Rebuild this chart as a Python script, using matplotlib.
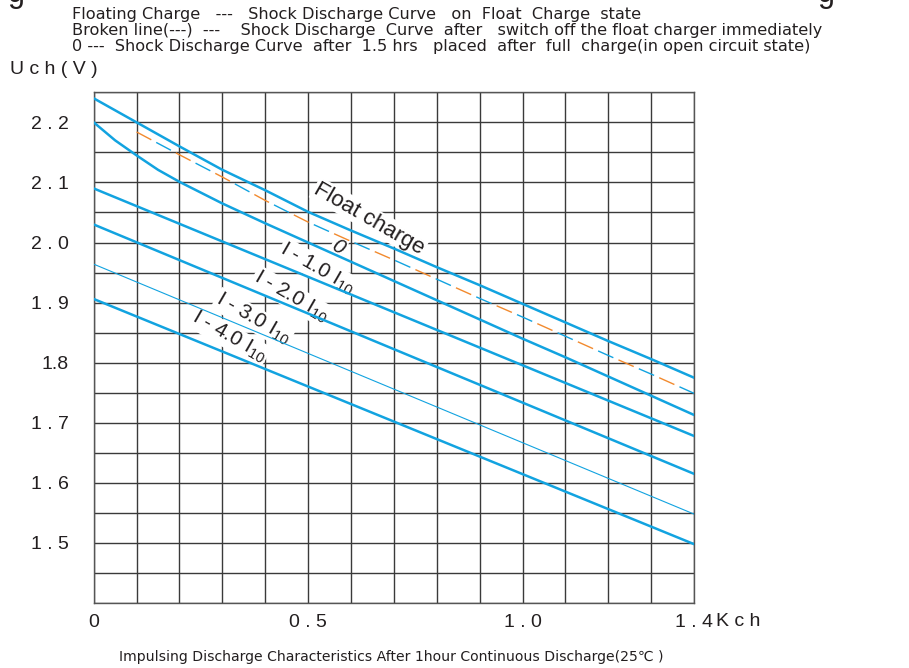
import numpy as np
import matplotlib
matplotlib.use("Agg")
import matplotlib.pyplot as plt

plt.rcParams['font.family'] = ['Liberation Sans', 'DejaVu Sans']
plt.rcParams['mathtext.fontset'] = 'custom'
plt.rcParams['mathtext.rm'] = 'Liberation Sans'
plt.rcParams['mathtext.it'] = 'Liberation Sans:italic'

# data (x in Kch, y in V)
x_float = [0, 0.1, 0.2, 0.3, 0.4, 0.5, 0.6, 0.7, 0.8, 0.9, 1.0, 1.1, 1.2, 1.3, 1.4]
y_float = [2.24, 2.20, 2.160, 2.121, 2.087, 2.051, 2.020, 1.990, 1.959, 1.929,
           1.898, 1.867, 1.836, 1.806, 1.775]

x_zero = [0, 0.05, 0.1, 0.15, 0.2, 0.3, 0.4, 0.5, 0.6, 0.7, 0.8, 0.9, 1.0, 1.1, 1.2, 1.3, 1.4]
y_zero = [2.20, 2.170, 2.145, 2.121, 2.101, 2.065, 2.032, 2.000, 1.968, 1.936,
          1.904, 1.872, 1.840, 1.809, 1.777, 1.745, 1.713]

x_broken = [0.1, 0.2, 0.3, 0.4, 0.5, 0.6, 0.7, 0.8, 0.9, 1.0, 1.1, 1.2, 1.3, 1.4]
y_broken = [2.184, 2.146, 2.109, 2.070, 2.034, 2.002, 1.971, 1.939, 1.907,
            1.876, 1.844, 1.812, 1.781, 1.749]

x_ends = [0, 1.4]
y_i10 = [2.090, 1.678]
y_i20 = [2.030, 1.615]
y_i30 = [1.964, 1.548]
y_i40 = [1.906, 1.498]

y_ticks = [2.2, 2.1, 2.0, 1.9, 1.8, 1.7, 1.6, 1.5]
y_labels = ['2 . 2', '2 . 1', '2 . 0', '1 . 9', '1.8', '1 . 7', '1 . 6', '1 . 5']
x_ticks = [0, 0.5, 1.0, 1.4]
x_labels = ['0', '0 . 5', '1 . 0', '1 . 4']

blue = '#12a3e0'
orange = '#f28a2e'
ink = '#231f20'

fig = plt.figure(figsize=(9.09, 6.68), dpi=100)
ax = fig.add_axes([0.1031, 0.0973, 0.6604, 0.7645])

ax.set_xlim(0, 1.4)
ax.set_ylim(1.40, 2.25)

# grid every 0.1 Kch / 0.05 V
xg = np.round(np.arange(0, 1.401, 0.1), 2)
yg = np.round(np.arange(1.40, 2.2501, 0.05), 2)
ax.set_xticks(xg)
ax.set_yticks(yg)
ax.set_xticklabels([x_labels[x_ticks.index(v)] if v in x_ticks else '' for v in xg])
ax.set_yticklabels([y_labels[y_ticks.index(v)] if v in y_ticks else '' for v in yg])
ax.tick_params(length=0, labelsize=14, labelcolor=ink)
ax.tick_params(axis='y', pad=18)
ax.tick_params(axis='x', pad=8)
ax.grid(True, color='#3a3a3a', linewidth=1.0, zorder=0)
ax.set_axisbelow(True)
for s in ax.spines.values():
    s.set_color('#555555')
    s.set_linewidth(1.0)

ax.plot(x_float, y_float, color=blue, lw=1.8, zorder=3)
ax.plot(x_zero, y_zero, color=blue, lw=1.8, zorder=3)
ax.plot(x_ends, y_i10, color=blue, lw=1.8, zorder=3)
ax.plot(x_ends, y_i20, color=blue, lw=1.8, zorder=3)
ax.plot(x_ends, y_i30, color=blue, lw=0.8, zorder=3)
ax.plot(x_ends, y_i40, color=blue, lw=1.8, zorder=3)
# broken line: alternating orange / blue dashes
ax.plot(x_broken, y_broken, color=orange, lw=1.0, linestyle=(0, (12, 20)), zorder=3)
ax.plot(x_broken, y_broken, color=blue, lw=1.0, linestyle=(16, (12, 20)), zorder=3)

box = dict(facecolor='white', edgecolor='none', pad=1)
ax.text(0.643, 2.040, 'Float charge', fontsize=16, rotation=-30, color=ink,
        ha='center', va='center', bbox=box, zorder=2)
ax.text(0.570, 1.992, '0', fontsize=15, style='italic', rotation=-30, color=ink,
        ha='center', va='center', bbox=box, zorder=2)
labels = ['1.0', '2.0', '3.0', '4.0']
pos = [(0.522, 1.957), (0.460, 1.910), (0.372, 1.873), (0.316, 1.843)]
for lab, (px, py) in zip(labels, pos):
    ax.text(px, py, 'I - ' + lab + r' I$_{10}$', fontsize=15,
            rotation=-30, color=ink, ha='center', va='center', bbox=box, zorder=2)

ax.annotate('K c h', xy=(1.4, 1.40), xytext=(22, -18), textcoords='offset pixels',
            fontsize=14, color=ink, ha='left', va='center', annotation_clip=False)

head = ['DejaVu Sans']
fig.text(72 / 909, 1 - 15 / 668,
         'Floating Charge   ---   Shock Discharge Curve   on  Float  Charge  state',
         fontsize=11.6, family=head, color=ink, va='center')
fig.text(72 / 909, 1 - 31 / 668,
         'Broken line(---)  ---    Shock Discharge  Curve  after   switch off the float charger immediately',
         fontsize=11.6, family=head, color=ink, va='center')
fig.text(72 / 909, 1 - 47 / 668,
         '0 ---  Shock Discharge Curve  after  1.5 hrs   placed  after  full  charge(in open circuit state)',
         fontsize=11.6, family=head, color=ink, va='center')
fig.text(10 / 909, 1 - 70 / 668, 'U c h ( V )', fontsize=14, color=ink, va='center')
fig.text(391 / 909, 1 - 657 / 668,
         'Impulsing Discharge Characteristics After 1hour Continuous Discharge(25\u2103 )',
         fontsize=10.1, family=head, color=ink, ha='center', va='center')
# tops cut off in the source picture
fig.text(8 / 909, 1 - 2 / 668, 'g', fontsize=22, color=ink, va='baseline')
fig.text(818 / 909, 1 - 2 / 668, 'g', fontsize=22, color=ink, va='baseline')

fig.savefig('out.png', dpi=100)
